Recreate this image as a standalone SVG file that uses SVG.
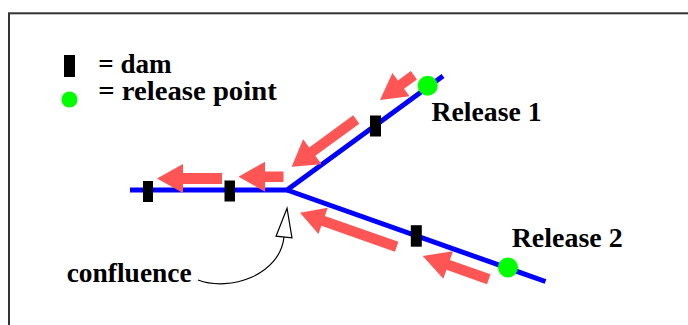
<svg xmlns="http://www.w3.org/2000/svg" width="688" height="325" viewBox="0 0 688 325">
  <style>
    .frame { fill: #ffffff; stroke: #333333; stroke-width: 2; }
    .river { fill: none; stroke: #0000ff; stroke-width: 5; stroke-linejoin: miter; }
    .dam { fill: #000000; }
    .release { fill: #00ff00; }
    .flow { fill: #ff5555; }
    .label { font-family: "Liberation Serif", "Times New Roman", serif; font-weight: bold; font-size: 27px; fill: #000000; }
    .pointer { fill: none; stroke: #000000; stroke-width: 1.2; }
  </style>
  <defs>
    <marker id="hollow-head" viewBox="-1 -1 31 18" refX="0" refY="8" markerWidth="31" markerHeight="18" markerUnits="userSpaceOnUse" orient="auto" overflow="visible">
      <path d="M0,0 L29,8 L0,16 Z" fill="#ffffff" stroke="#000000" stroke-width="1.2" stroke-linejoin="miter"/>
    </marker>
  </defs>

  <rect class="frame" x="9" y="13.3" width="700" height="330"/>

  <!-- legend -->
  <g id="legend">
    <rect class="dam" x="64" y="55" width="11" height="22"/>
    <circle class="release" cx="69.5" cy="99.5" r="8"/>
    <text class="label" x="98.3" y="73.3" textLength="73.4" lengthAdjust="spacingAndGlyphs">= dam</text>
    <text class="label" x="98.3" y="100" textLength="178.4" lengthAdjust="spacingAndGlyphs">= release point</text>
  </g>

  <!-- river network -->
  <g id="rivers">
    <polyline class="river" points="443,76 287,190 130,190"/>
    <line class="river" x1="287" y1="190" x2="545.5" y2="281.5"/>
  </g>

  <!-- flow direction arrows (tip at origin, pointing along -x) -->
  <g id="connectors">
    <polygon class="flow" transform="translate(157,178.5)" points="0,0 26,-14.5 26,-5.5 65,-5.5 65,5.5 26,5.5 26,14.5"/>
    <polygon class="flow" transform="translate(238.5,176.7)" points="0,0 26.5,-15 26.5,-5.2 45,-5.2 45,5.2 26.5,5.2 26.5,15"/>
    <polygon class="flow" transform="translate(380,100) rotate(-36.2)" points="0,0 26,-14.5 26,-5.2 42,-5.2 42,5.2 26,5.2 26,14.5"/>
    <polygon class="flow" transform="translate(291.7,166.7) rotate(-36.2)" points="0,0 25.5,-15.5 25.5,-5.2 80,-5.2 80,5.2 25.5,5.2 25.5,15.5"/>
    <polygon class="flow" transform="translate(300,212.7) rotate(19.4)" points="0,0 24.5,-14 24.5,-5.2 102.5,-5.2 102.5,5.2 24.5,5.2 24.5,14"/>
    <polygon class="flow" transform="translate(422.7,256) rotate(19.4)" points="0,0 27,-14.5 27,-5.2 70,-5.2 70,5.2 27,5.2 27,14.5"/>
    <path class="pointer" d="M198,280 C230,292 280,275 284,237" marker-end="url(#hollow-head)"/>
  </g>

  <!-- dams -->
  <g id="dam-1"><rect class="dam" x="143" y="181" width="10" height="21"/></g>
  <g id="dam-2"><rect class="dam" x="224.5" y="180.5" width="10.5" height="21"/></g>
  <g id="dam-3"><rect class="dam" x="370" y="115.5" width="11" height="21"/></g>
  <g id="dam-4"><rect class="dam" x="410.8" y="225.2" width="11" height="21.5"/></g>

  <!-- release points -->
  <g id="release-1">
    <circle class="release" cx="427.7" cy="85.7" r="10"/>
    <text class="label" x="431.5" y="121" textLength="110" lengthAdjust="spacingAndGlyphs">Release 1</text>
  </g>
  <g id="release-2">
    <circle class="release" cx="508" cy="267.5" r="10"/>
    <text class="label" x="511.7" y="246.7" textLength="111" lengthAdjust="spacingAndGlyphs">Release 2</text>
  </g>

  <g id="confluence">
    <text class="label" x="66.7" y="281.7" textLength="125" lengthAdjust="spacingAndGlyphs">confluence</text>
  </g>
</svg>
